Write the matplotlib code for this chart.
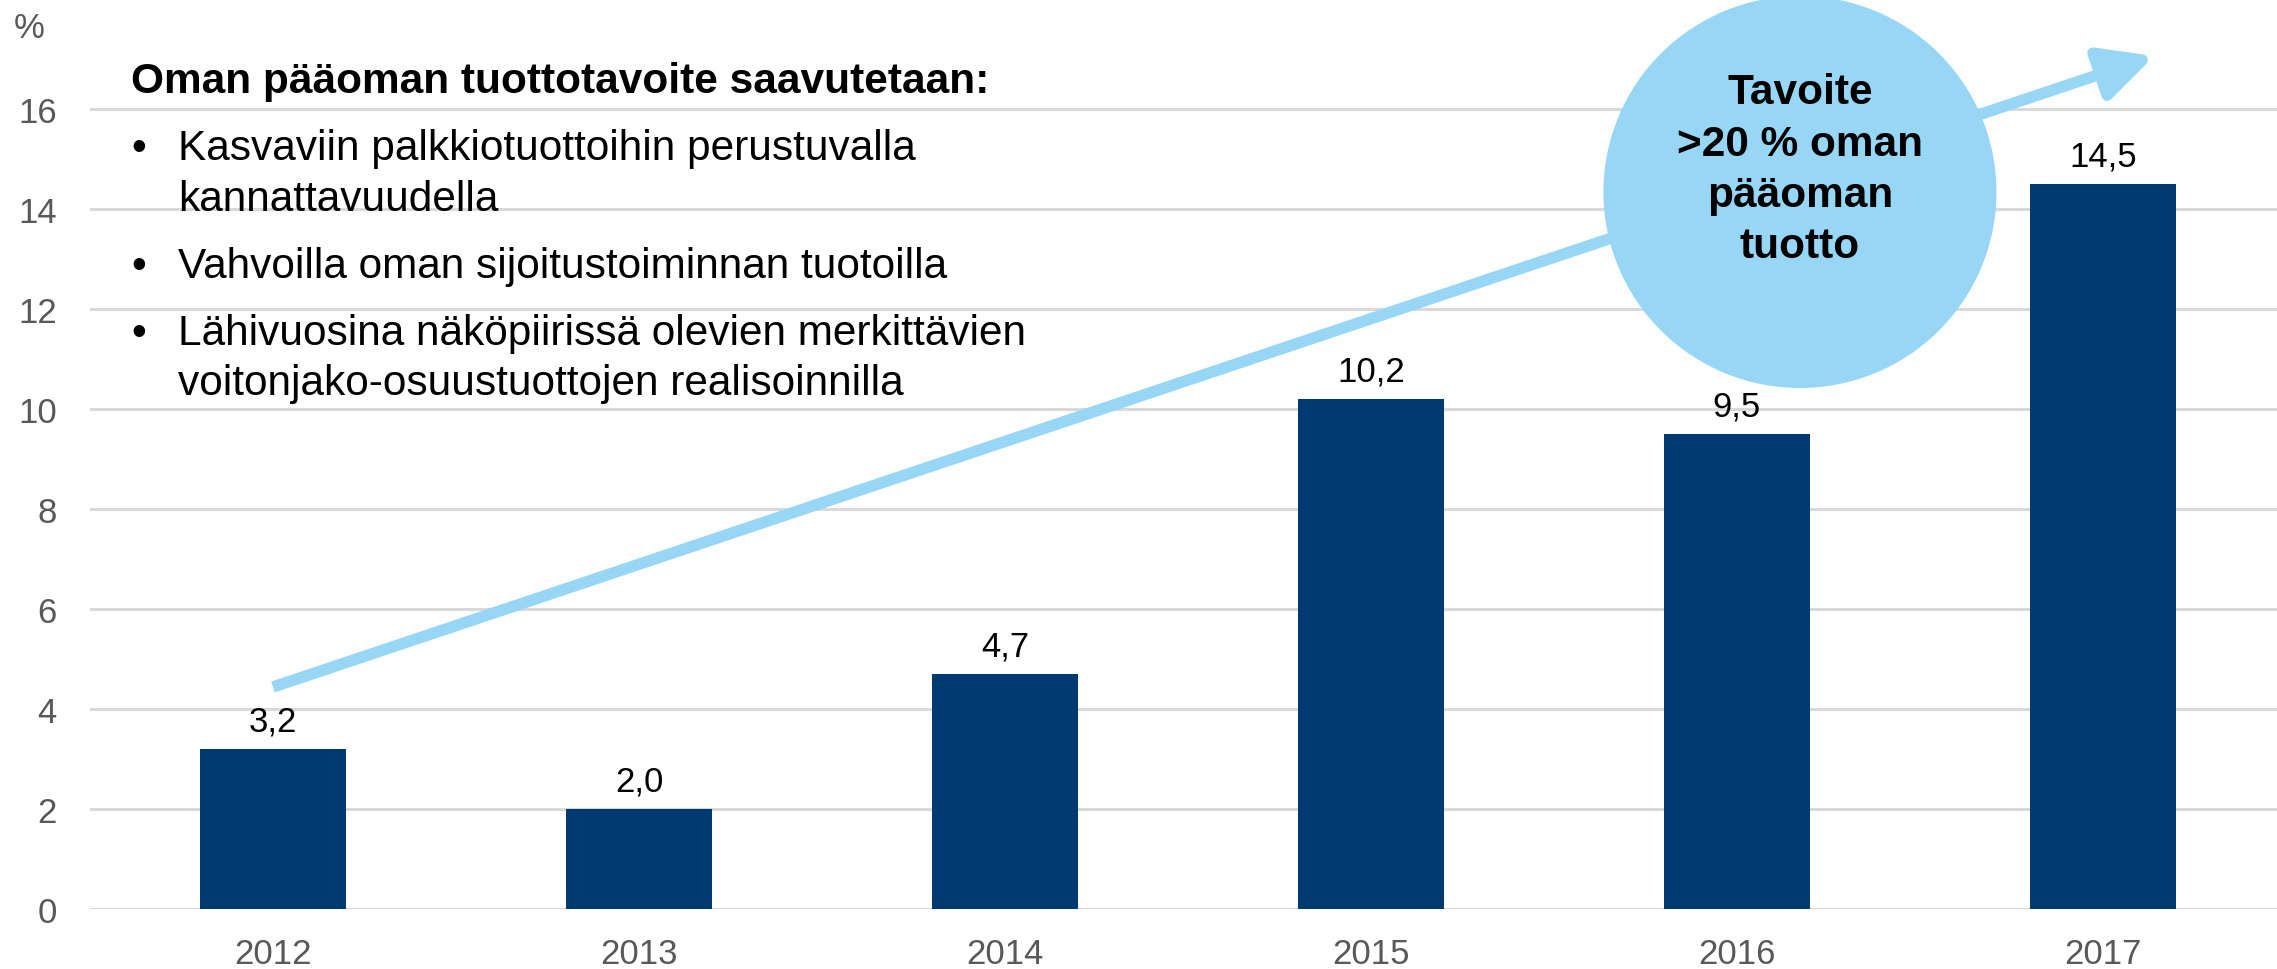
import matplotlib
matplotlib.use("Agg")
import matplotlib.pyplot as plt
from matplotlib.patches import Ellipse, FancyArrowPatch

plt.rcParams['font.family'] = ['Liberation Sans', 'DejaVu Sans']

# data
years = ['2012', '2013', '2014', '2015', '2016', '2017']
roe = [3.2, 2.0, 4.7, 10.2, 9.5, 14.5]
roe_labels = ['3,2', '2,0', '4,7', '10,2', '9,5', '14,5']
y_ticks = [0, 2, 4, 6, 8, 10, 12, 14, 16]

heading = 'Oman pääoman tuottotavoite saavutetaan:'
bullets = [
    ['Kasvaviin palkkiotuottoihin perustuvalla', 'kannattavuudella'],
    ['Vahvoilla oman sijoitustoiminnan tuotoilla'],
    ['Lähivuosina näköpiirissä olevien merkittävien', 'voitonjako-osuustuottojen realisoinnilla'],
]
target_lines = ['Tavoite', '>20 % oman', 'pääoman', 'tuotto']

# trend arrow (data coords) and target bubble
arrow_start = (0.0, 4.44)
arrow_end = (5.14, 17.06)
bubble_xy = (4.172, 14.34)
bubble_size = (1.074, 7.84)

BAR = '#003a70'
LIGHT = '#97d6f5'
GREY = '#595959'

W, H = 2277, 970
fig = plt.figure(figsize=(W / 100, H / 100), dpi=100)
ax = fig.add_axes([90 / W, 60 / H, (2286 - 90) / W, 910 / H])


def fx(px):
    return px / W


def fy(py):
    return 1 - py / H


x = list(range(len(years)))
ax.bar(x, roe, width=0.4, color=BAR, zorder=3)
for xi, v, lab in zip(x, roe, roe_labels):
    ax.annotate(lab, (xi, v), xytext=(0, 13), textcoords='offset points',
                ha='center', va='baseline', fontsize=25, color='black', zorder=4)

ax.set_xlim(-0.5, 5.5)
ax.set_ylim(0, 18.2)
ax.set_xticks(x)
ax.set_xticklabels(years)
ax.set_yticks(y_ticks)
ax.tick_params(axis='both', length=0, labelsize=25, labelcolor=GREY)
ax.tick_params(axis='x', pad=20)
ax.tick_params(axis='y', pad=24)
ax.grid(axis='y', color='#d9d9d9', linewidth=2.2, zorder=0)
ax.set_axisbelow(True)
for s in ax.spines.values():
    s.set_visible(False)

arrow = FancyArrowPatch(arrow_start, arrow_end,
                        arrowstyle='-|>,head_length=1.0,head_width=0.5',
                        mutation_scale=32, linewidth=8.2, color=LIGHT,
                        shrinkA=0, shrinkB=0, capstyle='butt', zorder=2,
                        clip_on=False)
ax.add_patch(arrow)

bubble = Ellipse(bubble_xy, bubble_size[0], bubble_size[1], facecolor=LIGHT,
                 edgecolor='none', zorder=5, clip_on=False)
ax.add_patch(bubble)

for i, line in enumerate(target_lines):
    fig.text(fx(1800), fy(104 + i * 51.5), line, ha='center', va='baseline',
             fontsize=30.5, fontweight='bold', color='black', zorder=6)

fig.text(fx(29), fy(28), '%', ha='center', va='center', fontsize=25, color=GREY)

fig.text(fx(131), fy(93), heading, ha='left', va='baseline',
         fontsize=30.5, fontweight='bold', color='black')

baselines = [[160, 211], [278], [345, 395]]
for lines, bls in zip(bullets, baselines):
    fig.text(fx(131), fy(bls[0]), '\u2022', ha='left', va='baseline',
             fontsize=30.5, color='black')
    for line, bl in zip(lines, bls):
        fig.text(fx(178), fy(bl), line, ha='left', va='baseline',
                 fontsize=30.5, color='black')

fig.savefig('out.png', dpi=100)
